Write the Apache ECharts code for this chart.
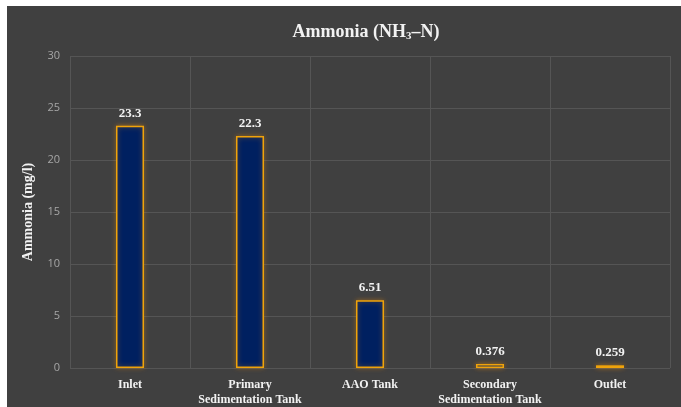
<!DOCTYPE html>
<html>
<head>
<meta charset="utf-8">
<script src="https://cdn.jsdelivr.net/npm/echarts@6/dist/echarts.min.js"></script>
<style>
  html, body { margin: 0; padding: 0; background: #ffffff; }
  #chart { position: absolute; left: 7px; top: 6px; width: 674px; height: 401px; }
</style>
</head>
<body>
<div id="chart"></div>
<script>
// data
const categories = ['Inlet', 'Primary\nSedimentation Tank', 'AAO Tank', 'Secondary\nSedimentation Tank', 'Outlet'];
const ammonia = [23.3, 22.3, 6.51, 0.376, 0.259];
const yTicks = { min: 0, max: 30, interval: 5 };

const serif = '"Liberation Serif", "DejaVu Serif", serif';

const myChart = echarts.init(document.getElementById('chart'));
myChart.setOption({
  backgroundColor: '#404040',
  title: {
    text: '{a|Ammonia (NH}{s|3}{a|–N)}',
    left: 354,
    textAlign: 'center',
    top: 11,
    textStyle: {
      rich: {
        a: { fontFamily: serif, fontWeight: 'bold', fontSize: 18, color: '#f2f2f2' },
        s: { fontFamily: serif, fontWeight: 'bold', fontSize: 11, color: '#f2f2f2', padding: [9, 0, 0, 0] },
      },
    },
  },
  grid: {
    left: 63,
    right: 11,
    top: 50,
    bottom: 38,
    containLabel: false,
  },
  xAxis: {
    type: 'category',
    data: categories,
    axisLine: { show: false },
    axisTick: { show: false },
    splitLine: { show: true, lineStyle: { color: '#555555', width: 1 } },
    axisLabel: {
      interval: 0,
      margin: 9,
      color: '#f2f2f2',
      fontFamily: serif,
      fontWeight: 'bold',
      fontSize: 12,
      lineHeight: 15,
    },
  },
  yAxis: {
    type: 'value',
    min: yTicks.min,
    max: yTicks.max,
    interval: yTicks.interval,
    name: 'Ammonia (mg/l)',
    nameLocation: 'middle',
    nameGap: 35,
    nameTextStyle: { color: '#f2f2f2', fontFamily: serif, fontWeight: 'bold', fontSize: 14 },
    axisLine: { show: false },
    axisTick: { show: false },
    axisLabel: { color: '#a6a6a6', fontFamily: '"Open Sans", "Liberation Sans", sans-serif', fontSize: 11, margin: 10 },
    splitLine: { lineStyle: { color: '#555555', width: 1 } },
  },
  series: [
    {
      type: 'bar',
      data: ammonia,
      barWidth: 28,
      itemStyle: {
        color: '#002060',
        borderColor: '#f0a30a',
        borderWidth: 1.5,
        shadowColor: 'rgba(255, 150, 0, 0.45)',
        shadowBlur: 5,
      },
      label: {
        show: true,
        position: 'top',
        distance: 6,
        color: '#f2f2f2',
        fontFamily: serif,
        fontWeight: 'bold',
        fontSize: 13,
      },
    },
  ],
});
</script>
</body>
</html>
